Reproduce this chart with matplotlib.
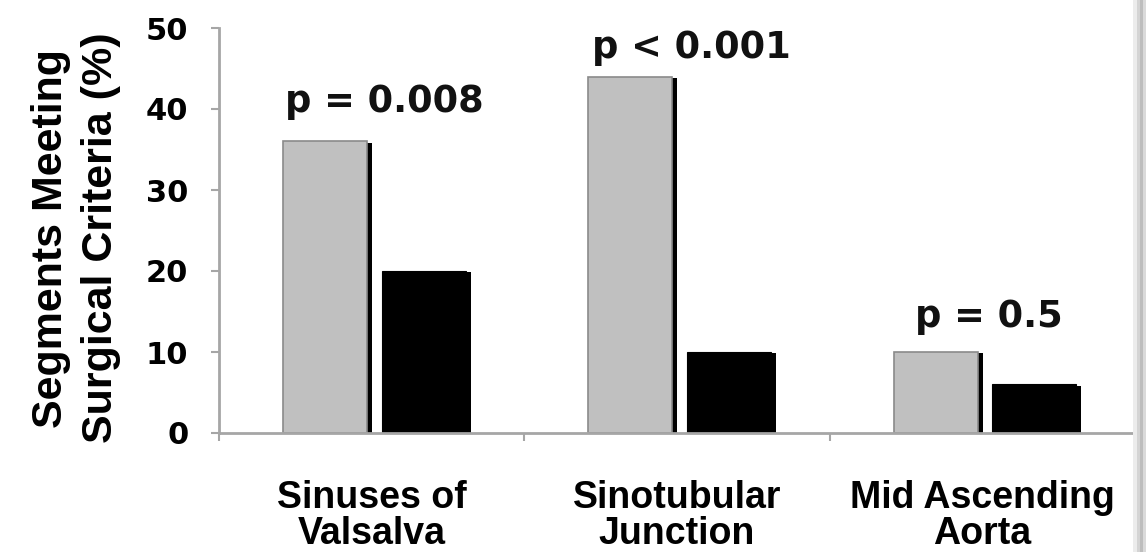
import numpy as np
import matplotlib
matplotlib.use("Agg")
import matplotlib.pyplot as plt
from matplotlib.patches import Rectangle

# ---- data ----
categories = ["Sinuses of\nValsalva", "Sinotubular\nJunction", "Mid Ascending\nAorta"]
grey_values = [36, 44, 10]
black_values = [20, 10, 6]
p_labels = ["p = 0.008", "p < 0.001", "p = 0.5"]
y_ticks = [0, 10, 20, 30, 40, 50]
y_label = "Segments Meeting\nSurgical Criteria (%)"

# ---- layout ----
p_offsets = [3.6, 2.3, 3.1]      # gap above tallest bar (data units)
p_dx = [0.04, 0.046, 0.023]

fig = plt.figure(figsize=(11.46, 5.52), dpi=100)
ax = fig.add_axes([219/1146, (552-433)/552, (1135-219)/1146, (433-28)/552])

x = np.arange(len(categories))
gw = 0.275
bw = 0.275
g_off = -0.153
b_off = 0.170
sdx = 0.017
sdy = 0.15

# shadows
ax.bar(x + g_off + sdx, np.array(grey_values) - sdy, gw, color="black", zorder=2, linewidth=0)
ax.bar(x + b_off + sdx, np.array(black_values) - sdy, bw, color="black", zorder=2, linewidth=0)
# bars
ax.bar(x + g_off, grey_values, gw, color="#c0c0c0", edgecolor="#8a8a8a", linewidth=1.2, zorder=3)
ax.bar(x + b_off, black_values, bw, color="black", edgecolor="black", linewidth=0.8, zorder=3)

for i, lab in enumerate(p_labels):
    top = max(grey_values[i], black_values[i])
    ax.text(x[i] + p_dx[i], top + p_offsets[i], lab, ha="center", va="baseline",
            fontsize=26.5, fontweight="bold", family="DejaVu Sans", color="#111111")

ax.set_xlim(-0.5, 2.5)
ax.set_ylim(0, 50)
axis_col = "#a6a6a6"
for s in ["top", "right"]:
    ax.spines[s].set_visible(False)
for s in ["left", "bottom"]:
    ax.spines[s].set_color(axis_col)
    ax.spines[s].set_linewidth(2)
ax.spines["bottom"].set_zorder(4)

ax.set_yticks(y_ticks)
ax.set_yticklabels([str(v) for v in y_ticks], fontsize=22, fontweight="bold", family="DejaVu Sans")
ax.tick_params(axis="y", direction="out", length=6, width=1.5, color=axis_col, pad=16)

ax.set_xticks(x)
ax.set_xticklabels(categories, fontsize=27, fontweight="bold", family="Liberation Sans",
                   linespacing=0.99)
ax.tick_params(axis="x", which="major", length=0, pad=34)
ax.set_xticks([-0.5, 0.5, 1.5, 2.5], minor=True)
ax.tick_params(axis="x", which="minor", direction="out", length=6, width=1.5, color=axis_col)

fig.text(76/1146, 1 - 238/552, y_label, rotation=90, ha="center", va="center",
         fontsize=31, fontweight="bold", family="Liberation Sans", linespacing=1.3,
         multialignment="center")

# right frame edge
for xs, w, c in [(1133, 4, "#ececec"), (1137, 3, "#d4d4d4"), (1140, 3, "#bdbdbd"), (1143, 3, "#dadada")]:
    fig.patches.append(Rectangle((xs/1146, 0), w/1146, 1, transform=fig.transFigure,
                                 color=c, zorder=0, linewidth=0))

fig.savefig("out.png", dpi=100)
